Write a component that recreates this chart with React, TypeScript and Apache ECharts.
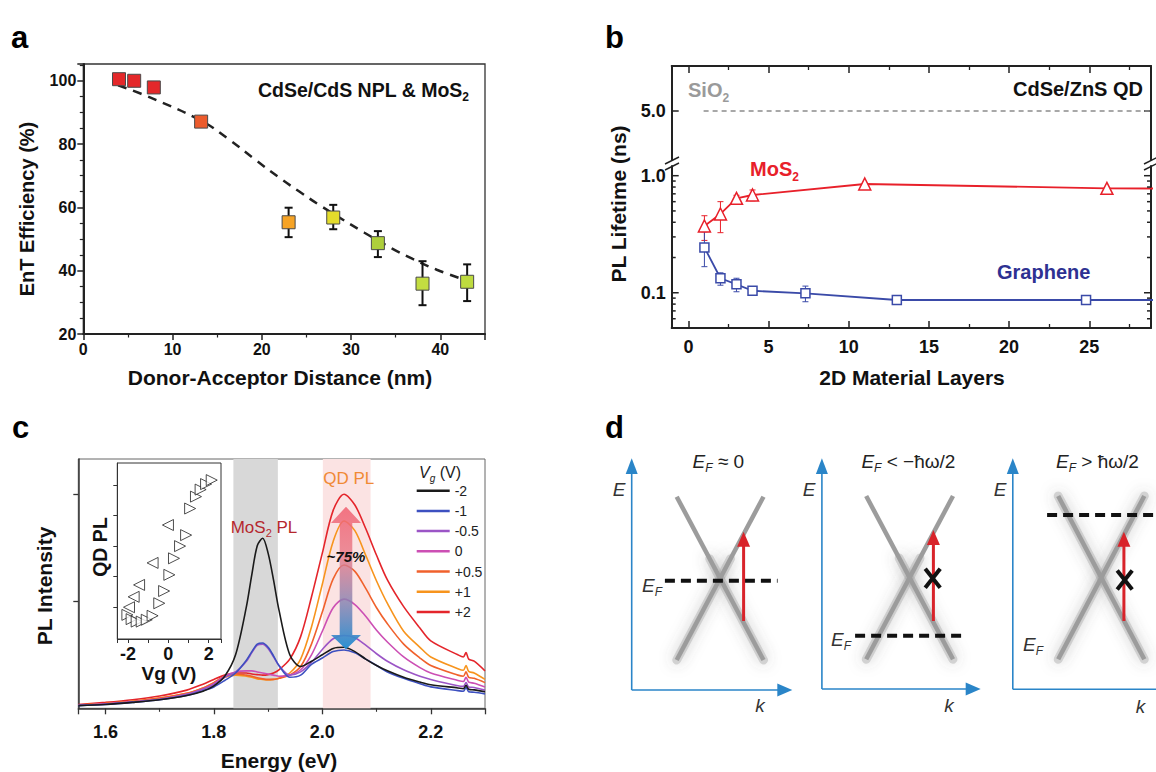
import React, { useEffect, useRef } from 'react';
import * as echarts from 'echarts';

const FONT = "'Liberation Sans', Arial, Helvetica, sans-serif";

// ---------------- Panel a : EnT efficiency vs donor-acceptor distance ----------------
const aDistance = [4, 5.7, 7.9, 13.2, 23, 28, 33, 38, 43];
const aEfficiency = [100.5, 100, 97.9, 87.1, 55.3, 56.8, 48.7, 35.9, 36.5];
const aColors = ['#e4282a', '#e4282a', '#e4282a', '#ec5b2c', '#f6a325', '#e3dc2c', '#aecf3b', '#c3dd41', '#bedb3f'];
const aErrDistance = [23, 28, 33, 38, 43];
const aErrLow = [50.6, 53.1, 44.3, 29.1, 30.4];
const aErrHigh = [59.9, 60.8, 52.5, 43.0, 42.0];
const aFitDistance = [3.9, 7.6, 13.2, 16.3, 19.2, 21.9, 24.2, 26.7, 31.5, 34.6, 36.9, 39.6, 42.5];
const aFitEfficiency = [98.6, 94.6, 87.4, 81.5, 75.2, 69.5, 65.0, 60.3, 52.0, 47.0, 43.7, 40.3, 37.3];

// ---------------- Panel b : PL lifetime vs layers ----------------
const bMoS2Layers = [1, 2, 3, 4, 11, 26.1, 30];
const bMoS2Lifetime = [0.372, 0.471, 0.641, 0.684, 0.849, 0.78, 0.776];
const bMoS2ErrLayers = [1, 2, 3, 4];
const bMoS2ErrLow = [0.28, 0.326, 0.6, 0.61];
const bMoS2ErrHigh = [0.455, 0.6, 0.68, 0.755];
const bGrLayers = [1, 2, 3, 4, 7.3, 13, 24.8, 30];
const bGrLifetime = [0.244, 0.133, 0.118, 0.104, 0.0988, 0.0867, 0.0867, 0.0867];
const bGrErrLayers = [1, 2, 3, 4, 7.3];
const bGrErrLow = [0.167, 0.116, 0.102, 0.097, 0.0838];
const bGrErrHigh = [0.332, 0.148, 0.133, 0.11, 0.114];
const bSiO2Layers = [0.95, 40];
const bSiO2Lifetime = [5, 5];
const bLogMajor = [0.1, 1];
const bLogMinor = [0.06, 0.07, 0.08, 0.09, 0.2, 0.3, 0.4, 0.5, 0.6, 0.7, 0.8, 0.9];
const B_X_MIN = -1.04;
const B_X_MAX = 28.85;

// ---------------- Panel c : PL spectra vs gate voltage ----------------
const cEnergy = [1.55, 1.6, 1.65, 1.7, 1.75, 1.78, 1.8, 1.82, 1.84, 1.86, 1.87, 1.88, 1.89, 1.9, 1.91, 1.92, 1.94, 1.96, 1.98, 2.0, 2.02, 2.04, 2.06, 2.08, 2.1, 2.12, 2.15, 2.18, 2.2, 2.25, 2.26, 2.265, 2.27, 2.28, 2.3];
const cVgLabels = ['-2', '-1', '-0.5', '0', '+0.5', '+1', '+2'];
const cColors = ['#1a1a1a', '#3d50c0', '#9b55c6', '#cc4fb4', '#f0612c', '#f7941d', '#e4252b'];
const plVgM2 = [0.025, 0.035, 0.055, 0.08, 0.12, 0.16, 0.21, 0.3, 0.5, 0.95, 1.25, 1.52, 1.59, 1.45, 1.2, 0.92, 0.5, 0.39, 0.44, 0.5, 0.56, 0.57, 0.53, 0.46, 0.4, 0.35, 0.29, 0.245, 0.22, 0.19, 0.183, 0.215, 0.178, 0.172, 0.155];
const plVgM1 = [0.025, 0.035, 0.055, 0.08, 0.12, 0.165, 0.2, 0.26, 0.33, 0.45, 0.53, 0.6, 0.61, 0.57, 0.49, 0.4, 0.29, 0.31, 0.41, 0.47, 0.53, 0.545, 0.52, 0.46, 0.4, 0.34, 0.28, 0.23, 0.2, 0.165, 0.16, 0.195, 0.155, 0.15, 0.135];
const plVgM05 = [0.028, 0.04, 0.06, 0.085, 0.13, 0.18, 0.22, 0.29, 0.34, 0.44, 0.52, 0.59, 0.6, 0.56, 0.48, 0.4, 0.31, 0.34, 0.43, 0.55, 0.65, 0.68, 0.66, 0.59, 0.51, 0.44, 0.36, 0.3, 0.27, 0.21, 0.205, 0.24, 0.2, 0.195, 0.17];
const plVg0 = [0.028, 0.04, 0.06, 0.085, 0.13, 0.18, 0.23, 0.3, 0.34, 0.35, 0.35, 0.34, 0.33, 0.32, 0.31, 0.3, 0.31, 0.36, 0.5, 0.72, 0.94, 1.02, 0.97, 0.86, 0.73, 0.62, 0.48, 0.38, 0.33, 0.26, 0.25, 0.29, 0.245, 0.235, 0.2];
const plVgP05 = [0.03, 0.045, 0.065, 0.095, 0.14, 0.19, 0.24, 0.3, 0.32, 0.31, 0.3, 0.285, 0.275, 0.27, 0.27, 0.28, 0.31, 0.39, 0.6, 0.9, 1.21, 1.34, 1.28, 1.12, 0.94, 0.79, 0.6, 0.47, 0.4, 0.31, 0.3, 0.34, 0.29, 0.28, 0.24];
const plVgP1 = [0.03, 0.045, 0.065, 0.095, 0.14, 0.19, 0.24, 0.29, 0.31, 0.3, 0.29, 0.275, 0.27, 0.265, 0.27, 0.28, 0.33, 0.46, 0.76, 1.16, 1.56, 1.75, 1.66, 1.43, 1.19, 0.98, 0.72, 0.57, 0.48, 0.37, 0.355, 0.4, 0.345, 0.33, 0.27];
const plVgP2 = [0.035, 0.055, 0.08, 0.115, 0.17, 0.225, 0.27, 0.31, 0.33, 0.33, 0.32, 0.315, 0.31, 0.315, 0.33, 0.36, 0.46, 0.67, 1.04, 1.45, 1.85, 2.0, 1.9, 1.68, 1.43, 1.2, 0.95, 0.75, 0.63, 0.5, 0.48, 0.52, 0.46, 0.44, 0.35];
const cMoS2Band = [1.836, 1.918];
const cQDBand = [2.001, 2.089];
const cInsetFwdVg = [-2.03, -1.82, -1.57, -1.32, -1.07, -0.78, -0.45, -0.21, 0.05, 0.28, 0.58, 0.88, 1.08, 1.37, 1.6, 1.87, 2.15];
const cInsetFwdPL = [-0.25, -0.39, -0.47, -0.47, -0.41, -0.28, 0.13, 0.53, 1.06, 1.6, 2.0, 2.36, 3.23, 3.62, 3.85, 4.03, 4.16];
const cInsetRevVg = [-1.95, -1.72, -1.45, -0.78, -0.02];
const cInsetRevPL = [0.0, 0.34, 0.73, 1.45, 2.69];

const zip = (xs: number[], ys: number[]) => xs.map((x, i) => [x, ys[i]]);

function rich(f: number, weight: string, color: string) {
  const base: any = { fontSize: f, lineHeight: Math.round(f * 1.35), fontWeight: weight, fill: color, fontFamily: FONT };
  const sub: any = { fontSize: Math.round(f * 0.62), lineHeight: Math.round(f * 0.62), verticalAlign: 'bottom', fontWeight: weight, fill: color, fontFamily: FONT };
  return { n: base, i: { ...base, fontStyle: 'italic' }, s: sub, si: { ...sub, fontStyle: 'italic' } };
}

function T(x: number, y: number, text: string, size: number, o: any = {}) {
  const weight = o.weight || 'normal';
  const color = o.color || '#111';
  return {
    type: 'text', x, y, rotation: o.rot || 0, z: o.z || 50, silent: true,
    style: {
      text, fill: color, fontSize: size, fontWeight: weight, fontStyle: o.italic ? 'italic' : 'normal',
      fontFamily: FONT, align: o.align || 'left', verticalAlign: 'middle', rich: rich(size, weight, color),
    },
  };
}

const L = (x1: number, y1: number, x2: number, y2: number, style: any, z = 20) => ({ type: 'line', z, silent: true, shape: { x1, y1, x2, y2 }, style });
const PG = (points: number[][], fill: any, z = 21) => ({ type: 'polygon', z, silent: true, shape: { points }, style: { fill } });

function errorBar(color: string, width: number, cap: number) {
  return (params: any, api: any) => {
    const x = api.value(0);
    const lo = api.coord([x, api.value(1)]);
    const hi = api.coord([x, api.value(2)]);
    const st = { stroke: color, lineWidth: width };
    return {
      type: 'group',
      children: [
        { type: 'line', shape: { x1: lo[0], y1: lo[1], x2: hi[0], y2: hi[1] }, style: st },
        { type: 'line', shape: { x1: lo[0] - cap, y1: lo[1], x2: lo[0] + cap, y2: lo[1] }, style: st },
        { type: 'line', shape: { x1: hi[0] - cap, y1: hi[1], x2: hi[0] + cap, y2: hi[1] }, style: st },
      ],
    };
  };
}

function axisBase(color = '#222', width = 2) {
  return {
    axisLine: { show: true, onZero: false, lineStyle: { color, width } },
    splitLine: { show: false },
    minorSplitLine: { show: false },
    axisPointer: { show: false },
  };
}
const tickStyle = (w = 1.5, c = '#222') => ({ color: c, width: w });
const lbl = (size: number, margin: number, formatter: any) => ({
  show: true, margin, fontSize: size, fontWeight: 'bold', color: '#111', fontFamily: FONT, formatter,
});

function panelD() {
  const els: any[] = [];
  const blue = '#2a85c8';
  const red = '#d8232a';
  const diagrams = [
    { x0: 631.7, yB: 690, kTip: 792.3, top: [676.7, 496.7], bot: [763.5, 660], ef: [664.9, 777.6, 580.7], ar: [743.6, 621, 531.7], X: null as any, E: [619, 489.6], k: [760, 705], efL: [642, 585], title: [692.6, 461, '{i|E}{si|F}{n| ≈ 0}'], full: false },
    { x0: 821.9, yB: 689, kTip: 980.7, top: [866.2, 496], bot: [953, 659.3], ef: [855.1, 965.9, 635.7], ar: [933.4, 621, 530], X: [932.7, 578.3], E: [809, 489.6], k: [949, 705], efL: [831, 639], title: [861.4, 461, '{i|E}{si|F}{n| < −ħω/2}'], full: false },
    { x0: 1012.8, yB: 689.3, kTip: 0, top: [1058.2, 496], bot: [1144.3, 659.3], ef: [1047.1, 1160, 515], ar: [1123.9, 621, 531.7], X: [1124.7, 580], E: [1000, 489.6], k: [1140.5, 706.7], efL: [1023, 644], title: [1056, 461, '{i|E}{si|F}{n| > ħω/2}'], full: true },
  ];
  diagrams.forEach((d) => {
    const axSt = { stroke: blue, lineWidth: 1.6 };
    els.push(L(d.x0, d.yB, d.x0, 470, axSt));
    els.push(PG([[d.x0, 458.3], [d.x0 - 6, 474], [d.x0 + 6, 474]], blue));
    if (d.kTip) {
      els.push(L(d.x0, d.yB, d.kTip - 12, d.yB, axSt));
      els.push(PG([[d.kTip, d.yB], [d.kTip - 15, d.yB - 6.5], [d.kTip - 15, d.yB + 6.5]], blue));
    } else {
      els.push(L(d.x0, d.yB, 1160, d.yB, axSt));
    }
    const [tx, ty] = d.top;
    const [bx, by] = d.bot;
    const glow = { stroke: 'rgba(160,160,160,0.4)', lineWidth: 9, shadowBlur: 14, shadowColor: 'rgba(80,80,80,0.65)', lineCap: 'round' };
    if (d.full) {
      els.push(L(tx, ty, bx, by, glow, 10));
      els.push(L(bx, ty, tx, by, glow, 10));
    } else {
      const sy = ty + (by - ty) * 0.38;
      els.push(L(tx + (bx - tx) * 0.38, sy, bx, by, glow, 10));
      els.push(L(bx - (bx - tx) * 0.38, sy, tx, by, glow, 10));
    }
    const grey = { stroke: '#9c9c9c', lineWidth: 4.5 };
    els.push(L(tx, ty, bx, by, grey, 12));
    els.push(L(bx, ty, tx, by, grey, 12));
    els.push(L(d.ef[0], d.ef[2], d.ef[1], d.ef[2], { stroke: '#111', lineWidth: 4, lineDash: [10, 6] }, 22));
    els.push(L(d.ar[0], d.ar[1], d.ar[0], d.ar[2] + 12, { stroke: red, lineWidth: 3 }, 23));
    els.push(PG([[d.ar[0], d.ar[2]], [d.ar[0] - 6.5, d.ar[2] + 15], [d.ar[0] + 6.5, d.ar[2] + 15]], red, 23));
    if (d.X) {
      const [xx, xy] = d.X;
      const xs = { stroke: '#111', lineWidth: 4 };
      els.push(L(xx - 7.5, xy - 9.5, xx + 7.5, xy + 9.5, xs, 24));
      els.push(L(xx + 7.5, xy - 9.5, xx - 7.5, xy + 9.5, xs, 24));
    }
    els.push(T(d.E[0], d.E[1], 'E', 19, { italic: true, color: '#333', align: 'center' }));
    els.push(T(d.k[0], d.k[1], 'k', 19, { italic: true, color: '#333', align: 'center' }));
    els.push(T(d.efL[0], d.efL[1], '{i|E}{si|F}', 19, { color: '#333' }));
    els.push(T(d.title[0] as number, d.title[1] as number, d.title[2] as string, 19, { color: '#222' }));
  });
  return els;
}

function buildOption(): any {
  const cSeriesData = [plVgM2, plVgM1, plVgM05, plVg0, plVgP05, plVgP1, plVgP2];

  const graphics: any[] = [
    // panel letters
    T(11, 37.5, 'a', 31, { weight: 'bold', color: '#000' }),
    T(605, 37, 'b', 31, { weight: 'bold', color: '#000' }),
    T(12, 427, 'c', 31, { weight: 'bold', color: '#000' }),
    T(605, 427, 'd', 31, { weight: 'bold', color: '#000' }),
    // panel a
    T(469, 90, '{n|CdSe/CdS NPL & MoS}{s|2}', 19.5, { weight: 'bold', align: 'right', color: '#111' }),
    T(27, 209, 'EnT Efficiency (%)', 20, { weight: 'bold', rot: Math.PI / 2, align: 'center' }),
    T(280, 377, 'Donor-Acceptor Distance (nm)', 21, { weight: 'bold', align: 'center' }),
    // panel b
    T(688, 90, '{n|SiO}{s|2}', 20, { weight: 'bold', color: '#9a9a9a' }),
    T(1143, 89, 'CdSe/ZnS QD', 20, { weight: 'bold', align: 'right', color: '#111' }),
    T(750, 169, '{n|MoS}{s|2}', 20, { weight: 'bold', color: '#e8202a' }),
    T(997, 272, 'Graphene', 20, { weight: 'bold', color: '#2e3192' }),
    T(618, 204, 'PL Lifetime (ns)', 21, { weight: 'bold', rot: Math.PI / 2, align: 'center' }),
    T(912, 377, '2D Material Layers', 21, { weight: 'bold', align: 'center' }),
    // break marks
    L(665, 164, 679, 157, { stroke: '#222', lineWidth: 1.5 }, 30),
    L(665, 170, 679, 163, { stroke: '#222', lineWidth: 1.5 }, 30),
    L(1144, 164, 1158, 157, { stroke: '#222', lineWidth: 1.5 }, 30),
    L(1144, 170, 1158, 163, { stroke: '#222', lineWidth: 1.5 }, 30),
    // panel c
    T(44.6, 586, 'PL Intensity', 21, { weight: 'bold', rot: Math.PI / 2, align: 'center' }),
    T(279, 760, 'Energy (eV)', 21, { weight: 'bold', align: 'center' }),
    T(100, 547, 'QD PL', 19.5, { weight: 'bold', rot: Math.PI / 2, align: 'center' }),
    T(169, 673.5, 'Vg (V)', 19, { weight: 'bold', align: 'center' }),
    T(230.7, 527.3, '{n|MoS}{s|2}{n| PL}', 17, { color: '#b5272d' }),
    T(323.3, 478.3, 'QD PL', 17, { color: '#f08a35' }),
    T(419, 472, '{i|V}{si|g}{n| (V)}', 16, { color: '#222' }),
    {
      type: 'polygon', z: 40, silent: true,
      shape: { points: [[346, 506.7], [361, 523], [352.3, 523], [352.3, 635], [361, 635], [346, 649.3], [331, 635], [339.7, 635], [339.7, 523], [331, 523]] },
      style: {
        fill: {
          type: 'linear', x: 0, y: 0, x2: 0, y2: 1,
          colorStops: [
            { offset: 0, color: 'rgba(241,96,112,0.85)' },
            { offset: 0.35, color: 'rgba(232,120,135,0.8)' },
            { offset: 0.65, color: 'rgba(140,130,175,0.82)' },
            { offset: 1, color: 'rgba(30,140,210,0.95)' },
          ],
        },
      },
    },
    T(346, 556.7, '~75%', 15, { weight: 'bold', italic: true, align: 'center', color: '#111', z: 45 }),
    ...panelD(),
  ];

  return {
    animation: false,
    backgroundColor: '#fff',
    textStyle: { fontFamily: FONT },
    grid: [
      { left: 83.3, top: 64, width: 401.7, height: 270, show: true, borderColor: '#333', borderWidth: 1.3, backgroundColor: 'transparent', containLabel: false, outerBoundsMode: 'none' },
      { left: 671.7, top: 66, width: 479.3, height: 94, containLabel: false, outerBoundsMode: 'none' },
      { left: 671.7, top: 166, width: 479.3, height: 162, containLabel: false, outerBoundsMode: 'none' },
      { left: 78.3, top: 459, width: 406.7, height: 249.3, show: true, borderColor: '#666', borderWidth: 1, backgroundColor: 'transparent', containLabel: false, outerBoundsMode: 'none' },
      { left: 117.3, top: 463, width: 103.7, height: 176, show: true, borderColor: '#333', borderWidth: 1, backgroundColor: '#fff', containLabel: false, outerBoundsMode: 'none' },
    ],
    legend: {
      data: cVgLabels, orient: 'vertical', left: 416.7, top: 481.7, itemWidth: 33, itemHeight: 2.5, itemGap: 2.2,
      icon: 'rect', selectedMode: false, padding: 0,
      textStyle: { fontSize: 14, color: '#222', lineHeight: 18, fontFamily: FONT },
    },
    xAxis: [
      {
        gridIndex: 0, type: 'value', min: 0, max: 45, interval: 10, ...axisBase('#222', 2),
        axisTick: { show: true, inside: false, length: 6, lineStyle: tickStyle(1.5) },
        minorTick: { show: true, splitNumber: 2, length: 3.5, lineStyle: tickStyle(1.2) },
        axisLabel: lbl(16, 7, (v: number) => (Math.abs(v % 10) < 1e-6 && v <= 40 ? String(v) : '')),
      },
      {
        gridIndex: 1, type: 'value', position: 'top', min: B_X_MIN, max: B_X_MAX, ...axisBase('#222', 2),
        axisTick: { show: true, inside: true, length: 7, lineStyle: tickStyle(1.5) },
        minorTick: { show: true, splitNumber: 2, length: 4, lineStyle: tickStyle(1.3) },
        axisLabel: { show: false },
      },
      {
        gridIndex: 2, type: 'value', position: 'bottom', min: B_X_MIN, max: B_X_MAX, ...axisBase('#222', 2),
        axisTick: { show: true, inside: true, length: 7, lineStyle: tickStyle(1.5) },
        minorTick: { show: true, splitNumber: 2, length: 4, lineStyle: tickStyle(1.3) },
        axisLabel: lbl(18, 10, (v: number) => (Math.abs(v / 5 - Math.round(v / 5)) < 1e-6 ? String(Math.round(v)) : '')),
      },
      {
        gridIndex: 3, type: 'value', min: 1.55, max: 2.3, splitNumber: 4, ...axisBase('#333', 1.5),
        axisTick: { show: true, inside: false, length: 6, lineStyle: tickStyle(1.3, '#333') },
        minorTick: { show: true, splitNumber: 2, length: 3.5, lineStyle: tickStyle(1.1, '#333') },
        axisLabel: lbl(18, 15, (v: number) => (Math.abs(v * 5 - Math.round(v * 5)) < 1e-6 ? v.toFixed(1) : '')),
      },
      {
        gridIndex: 4, type: 'value', min: -2.53, max: 2.61, ...axisBase('#333', 1),
        axisTick: { show: true, inside: false, length: 4, lineStyle: tickStyle(1, '#333') },
        axisLabel: lbl(18, 6, (v: number) => (Math.abs(v / 2 - Math.round(v / 2)) < 1e-6 ? String(Math.round(v)) : '')),
      },
    ],
    yAxis: [
      {
        gridIndex: 0, type: 'value', min: 20, max: 105.3, interval: 20, ...axisBase('#222', 2),
        axisTick: { show: true, inside: false, length: 6, lineStyle: tickStyle(1.5) },
        minorTick: { show: true, splitNumber: 4, length: 3.5, lineStyle: tickStyle(1.2) },
        axisLabel: lbl(16, 7, (v: number) => (Math.abs(v % 20) < 1e-6 ? String(v) : '')),
      },
      {
        gridIndex: 1, type: 'value', position: 'left', min: 2, max: 7.76, interval: 1, ...axisBase('#222', 2),
        axisTick: { show: true, inside: true, length: 7, customValues: [5], lineStyle: tickStyle(1.5) },
        axisLabel: { ...lbl(18, 6, (v: number) => (Math.abs(v - 5) < 1e-6 ? '5.0' : '')), customValues: [5] },
      },
      {
        gridIndex: 1, type: 'value', position: 'right', min: 2, max: 7.76, interval: 1, ...axisBase('#222', 2),
        axisTick: { show: true, inside: true, length: 7, customValues: [5], lineStyle: tickStyle(1.5) },
        axisLabel: { show: false },
      },
      {
        gridIndex: 2, type: 'log', logBase: 10, position: 'left', min: 0.05, max: 1.21, ...axisBase('#222', 2),
        axisTick: { show: false }, minorTick: { show: false },
        axisLabel: lbl(18, 6, (v: number) => (Math.abs(v - 0.1) < 1e-9 ? '0.1' : Math.abs(v - 1) < 1e-9 ? '1.0' : '')),
      },
      {
        gridIndex: 2, type: 'log', logBase: 10, position: 'right', min: 0.05, max: 1.21, ...axisBase('#222', 2),
        axisTick: { show: false }, minorTick: { show: false }, axisLabel: { show: false },
      },
      {
        gridIndex: 3, type: 'value', min: 0, max: 2.33, interval: 1, ...axisBase('#333', 1.5),
        axisTick: { show: true, inside: false, length: 5, customValues: [1, 2], lineStyle: tickStyle(1.3, '#333') },
        axisLabel: { show: false },
      },
      {
        gridIndex: 4, type: 'value', min: -1.04, max: 4.72, ...axisBase('#333', 1),
        axisTick: { show: true, inside: false, length: 4, customValues: [0, 1, 2, 3, 4], lineStyle: tickStyle(1, '#333') },
        axisLabel: { show: false },
      },
    ],
    series: [
      // ---- panel a
      {
        type: 'line', name: 'fit', xAxisIndex: 0, yAxisIndex: 0, data: zip(aFitDistance, aFitEfficiency),
        smooth: 0.4, symbol: 'none', showSymbol: false, z: 2, silent: true,
        lineStyle: { color: '#222', width: 2.5, type: [9, 7] },
      },
      {
        type: 'custom', name: 'aErr', xAxisIndex: 0, yAxisIndex: 0, z: 3, silent: true,
        renderItem: errorBar('#111', 2, 4),
        encode: { x: 0, y: [1, 2] },
        data: aErrDistance.map((x, i) => [x, aErrLow[i], aErrHigh[i]]),
      },
      {
        type: 'scatter', name: 'EnT', xAxisIndex: 0, yAxisIndex: 0, z: 4, silent: true,
        symbol: 'rect', symbolSize: 13,
        itemStyle: { borderColor: '#4a4a4a', borderWidth: 1, opacity: 1 },
        data: aDistance.map((x, i) => ({ value: [x, aEfficiency[i]], itemStyle: { color: aColors[i] } })),
      },
      // ---- panel b
      {
        type: 'line', name: 'SiO2', xAxisIndex: 1, yAxisIndex: 1, data: zip(bSiO2Layers, bSiO2Lifetime),
        symbol: 'none', clip: true, silent: true, lineStyle: { color: '#8c8c8c', width: 1.5, type: [5, 4] },
      },
      {
        type: 'custom', name: 'bTicks', xAxisIndex: 2, yAxisIndex: 3, z: 5, silent: true,
        encode: { x: 0, y: 1 },
        data: [...bLogMajor.map((v) => [B_X_MIN, v, 7]), ...bLogMinor.map((v) => [B_X_MIN, v, 4])],
        renderItem: (params: any, api: any) => {
          const v = api.value(1);
          const len = api.value(2);
          const l = api.coord([B_X_MIN, v]);
          const r = api.coord([B_X_MAX, v]);
          const st = { stroke: '#222', lineWidth: 1.5 };
          return {
            type: 'group',
            children: [
              { type: 'line', shape: { x1: l[0], y1: l[1], x2: l[0] + len, y2: l[1] }, style: st },
              { type: 'line', shape: { x1: r[0] - len, y1: r[1], x2: r[0], y2: r[1] }, style: st },
            ],
          };
        },
      },
      {
        type: 'custom', name: 'MoS2Err', xAxisIndex: 2, yAxisIndex: 3, z: 2, silent: true,
        renderItem: errorBar('#e8202a', 1, 3), encode: { x: 0, y: [1, 2] },
        data: bMoS2ErrLayers.map((x, i) => [x, bMoS2ErrLow[i], bMoS2ErrHigh[i]]),
      },
      {
        type: 'custom', name: 'GrErr', xAxisIndex: 2, yAxisIndex: 3, z: 2, silent: true,
        renderItem: errorBar('#3a4aa8', 1, 3), encode: { x: 0, y: [1, 2] },
        data: bGrErrLayers.map((x, i) => [x, bGrErrLow[i], bGrErrHigh[i]]),
      },
      {
        type: 'line', name: 'MoS2', xAxisIndex: 2, yAxisIndex: 3, clip: true, z: 3, silent: true,
        symbol: 'triangle', symbolSize: 12, showSymbol: true,
        itemStyle: { color: '#fff', borderColor: '#e8202a', borderWidth: 1.5 },
        lineStyle: { color: '#e8202a', width: 1.8 },
        data: bMoS2Layers.map((x, i) => (x > B_X_MAX ? { value: [x, bMoS2Lifetime[i]], symbol: 'none' } : [x, bMoS2Lifetime[i]])),
      },
      {
        type: 'line', name: 'Graphene', xAxisIndex: 2, yAxisIndex: 3, clip: true, z: 3, silent: true,
        symbol: 'rect', symbolSize: 9, showSymbol: true,
        itemStyle: { color: '#fff', borderColor: '#3a4aa8', borderWidth: 1.5 },
        lineStyle: { color: '#3a4aa8', width: 1.8 },
        data: bGrLayers.map((x, i) => (x > B_X_MAX ? { value: [x, bGrLifetime[i]], symbol: 'none' } : [x, bGrLifetime[i]])),
      },
      // ---- panel c bands
      {
        type: 'line', name: 'bands', xAxisIndex: 3, yAxisIndex: 5, data: [], z: 1, silent: true,
        markArea: {
          silent: true,
          data: [
            [{ xAxis: cMoS2Band[0], itemStyle: { color: '#d8d8d8' } }, { xAxis: cMoS2Band[1] }],
            [{ xAxis: cQDBand[0], itemStyle: { color: '#fbe3e3' } }, { xAxis: cQDBand[1] }],
          ],
        },
      },
      // ---- panel c spectra (drawn +2 first, -2 last)
      ...[6, 5, 4, 3, 2, 1, 0].map((k) => ({
        type: 'line', name: cVgLabels[k], xAxisIndex: 3, yAxisIndex: 5, z: 3, silent: true,
        smooth: 0.3, symbol: 'none', showSymbol: false, clip: true,
        color: cColors[k],
        lineStyle: { color: cColors[k], width: 1.6 },
        data: zip(cEnergy, cSeriesData[k]),
      })),
      // ---- inset
      {
        type: 'scatter', name: 'fwd', xAxisIndex: 4, yAxisIndex: 6, z: 4, silent: true,
        symbol: 'triangle', symbolRotate: -90, symbolSize: 11,
        itemStyle: { color: '#fff', borderColor: '#222', borderWidth: 1 },
        data: zip(cInsetFwdVg, cInsetFwdPL),
      },
      {
        type: 'scatter', name: 'rev', xAxisIndex: 4, yAxisIndex: 6, z: 4, silent: true,
        symbol: 'triangle', symbolRotate: 90, symbolSize: 11,
        itemStyle: { color: '#fff', borderColor: '#222', borderWidth: 1 },
        data: zip(cInsetRevVg, cInsetRevPL),
      },
    ],
    graphic: { elements: graphics },
  };
}

const App = () => {
  const ref = useRef<HTMLDivElement>(null);
  useEffect(() => {
    if (!ref.current) return undefined;
    const chart = echarts.init(ref.current, undefined, { renderer: 'svg' });
    chart.setOption(buildOption());
    return () => chart.dispose();
  }, []);
  return (
    <div
      ref={ref}
      style={{ position: 'absolute', left: 0, top: 0, width: 1156, height: 772, background: '#fff' }}
    />
  );
};

export default App;
